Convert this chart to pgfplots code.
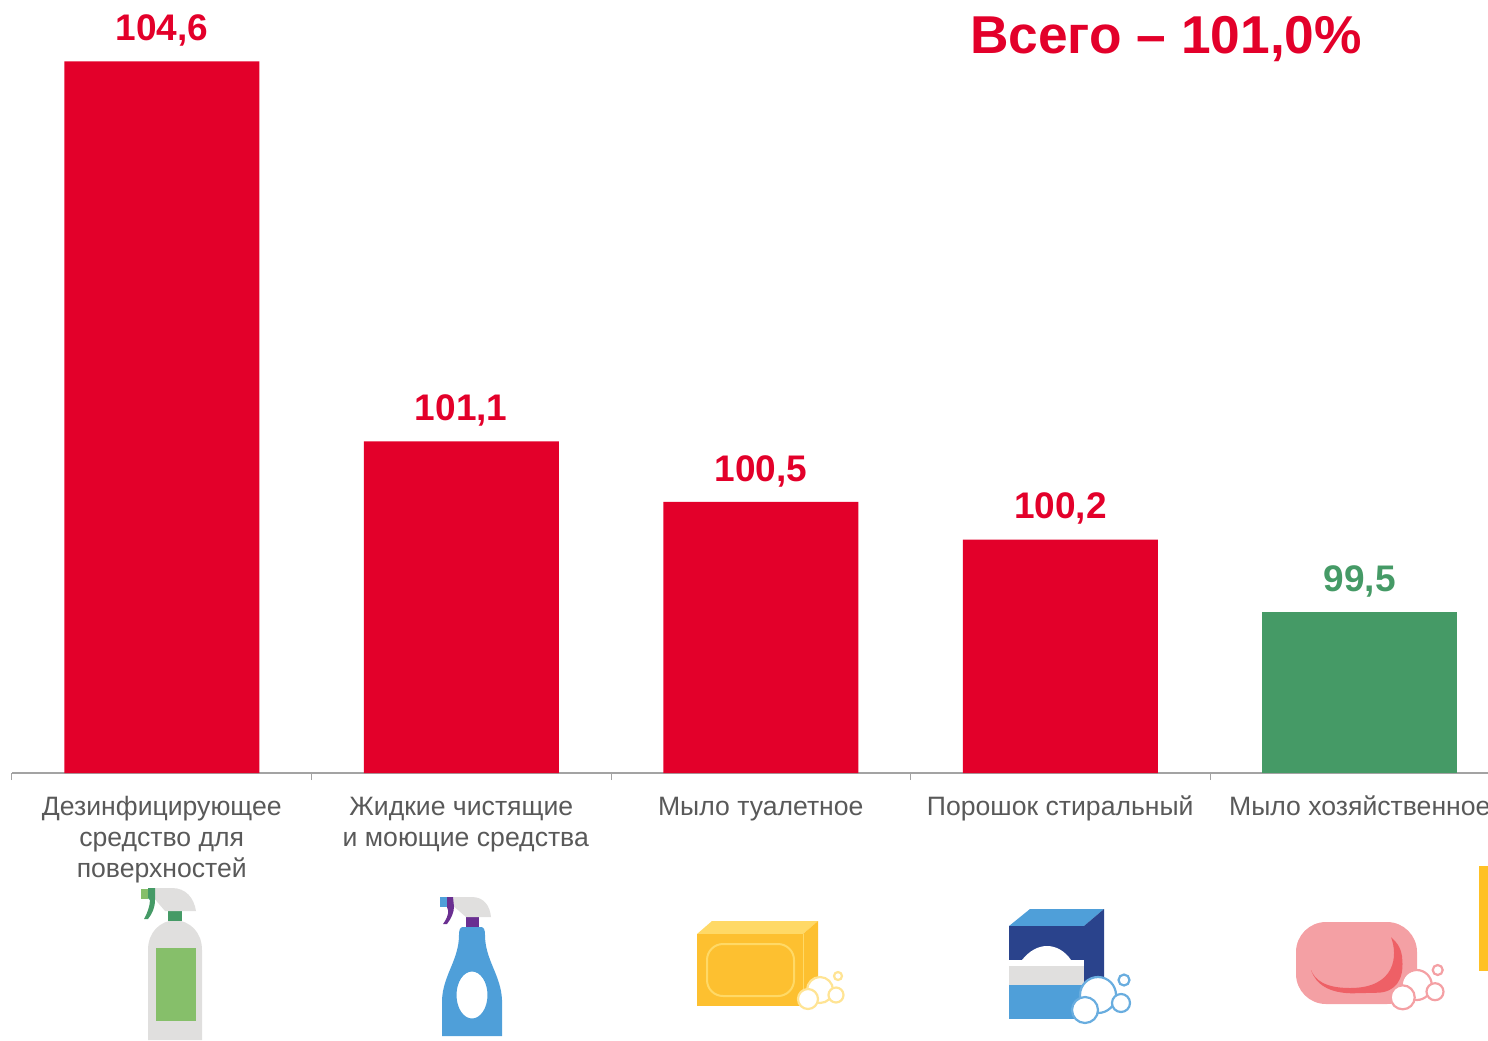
\documentclass[border=0pt]{standalone}
\usepackage{pgfplots}
\pgfplotsset{compat=1.18}
\usepackage{fontspec}
\setmainfont{Liberation Sans}
\definecolor{cred}{HTML}{E3002A}
\definecolor{cgreen}{HTML}{459A66}
\definecolor{caxis}{HTML}{A3A3A3}
\definecolor{ctext}{HTML}{595959}
\definecolor{igray}{HTML}{E0DFDE}
\definecolor{igreen}{HTML}{86BF6A}
\definecolor{iblue}{HTML}{4F9FD9}
\definecolor{ipurple}{HTML}{6A2F91}
\definecolor{iyel}{HTML}{FDC030}
\definecolor{iyell}{HTML}{FFD966}
\definecolor{inavy}{HTML}{2A438C}
\definecolor{ipink}{HTML}{F4A0A4}
\definecolor{ipinkd}{HTML}{EE6066}
\definecolor{ibar}{HTML}{FFC125}
\begin{document}
\begin{tikzpicture}
\path[use as bounding box] (0pt,0pt) rectangle (744pt,-520pt);
\clip (0pt,0pt) rectangle (744pt,-520pt);
\begin{axis}[
  at={(6pt,-386.5pt)}, anchor=south west,
  scale only axis, width=738pt, height=432pt,
  xmin=-0.5, xmax=4.428, ymin=98, ymax=106,
  ybar, bar width=97.5pt, bar shift=0pt,
  axis y line=none,
  axis x line*=bottom,
  x axis line style={-, draw=caxis, line width=0.8pt},
  xtick={0,1,2,3,4},
  xticklabels={{\strut Дезинфицирующее\\средство для\\поверхностей},{\strut Жидкие чистящие\\\hspace*{4.5pt}и моющие средства},{\strut Мыло туалетное},{\strut Порошок стиральный},{\strut Мыло хозяйственное}},
  x tick label style={font=\fontsize{13.3}{15.4}\selectfont, text=ctext, align=center, anchor=north, yshift=-6.9pt},
  major tick length=0pt,
  minor xtick={-0.5,0.5,1.5,2.5,3.5},
  minor tick length=3.5pt,
  xtick align=outside,
  tick pos=lower,
  minor tick style={draw=caxis, line width=0.5pt},
  major tick style={draw=none},
  nodes near coords,
  every node near coord/.append style={font=\bfseries\fontsize{18.5}{20}\selectfont, anchor=south, yshift=4pt},
  /pgf/number format/.cd, fixed, fixed zerofill, precision=1, use comma, assume math mode=true,
]
\addplot[draw=none, fill=cred, nodes near coords style={text=cred}] coordinates {(0,104.59) (1,101.07) (2,100.51) (3,100.16)};
\addplot[draw=none, fill=cgreen, nodes near coords style={text=cgreen}] coordinates {(4,99.49)};
\end{axis}
\begin{scope}[x=0.5pt,y=-0.5pt]
\node[text=cred, font=\bfseries\fontsize{26.65}{30}\selectfont] at (1166,39) {Всего – 101,0\%};
\fill[ibar] (1479,866) rectangle (1488,971);
% icon 1
\fill[igray] (148,1040)--(148,950) .. controls (148,932) and (160,921) .. (175,920) .. controls (190,921) and (202,932) .. (202,950)--(202,1040)--cycle;
\fill[igreen] (155.5,948) rectangle (195.5,1021);
\fill[cgreen] (168,911) rectangle (182,921);
\fill[igray] (155,888)--(172,888) .. controls (186,888) and (194,898) .. (196,911)--(165,911) .. controls (160,905) and (157,902) .. (155,899)--cycle;
\fill[igreen] (141,889) rectangle (148,899);
\fill[cgreen] (148,888)--(155,888)--(155,900) .. controls (155,908) and (152,914) .. (148,919)--(144,919) .. controls (147,914) and (150,906) .. (150,900)--(148,898)--cycle;
% icon 2
\fill[iblue,even odd rule] (442,1036)--(442,1000) .. controls (443,975) and (459,960) .. (459,935) .. controls (459,930) and (460,927) .. (463,927)--(481,927) .. controls (484,927) and (485,930) .. (485,935) .. controls (485,960) and (501,975) .. (502,1000)--(502,1036)--cycle (472,995) ellipse [x radius=15.5, y radius=23.5];
\fill[ipurple] (466,917) rectangle (479,927);
\fill[igray] (453,897)--(472,897) .. controls (484,897) and (490,906) .. (491,917)--(466,917) .. controls (460,912) and (456,908) .. (453,906)--cycle;
\fill[iblue] (440,897) rectangle (447,907);
\fill[ipurple] (447,897)--(453,897)--(454,907) .. controls (454,912) and (451,919) .. (447,924)--(443,924) .. controls (446,920) and (449,914) .. (448,910)--(447,907)--cycle;
% icon 3
\fill[iyell] (697,934)--(712,921)--(818,921)--(803,934)--cycle;
\fill[iyel] (697,934) rectangle (803,1006);
\fill[iyel] (803,934)--(818,921)--(818,993)--(803,1006)--cycle;
\draw[iyell,line width=0.3pt] (803,934)--(803,1006);
\draw[iyell,line width=1pt,rounded corners=8pt] (707,944) rectangle (794,996);
\begin{scope}[fill=white,draw=iyell!70!white,line width=1.1pt]
\filldraw (820,990) circle [radius=13];
\filldraw (836,995) circle [radius=7.5];
\filldraw (838,976) circle [radius=4];
\filldraw (808,999) circle [radius=10];
\end{scope}
% icon 4
\fill[iblue] (1009,926)--(1030,909)--(1104,909)--(1084,926)--cycle;
\fill[inavy] (1009,926) rectangle (1084,960);
\fill[inavy] (1084,926)--(1104,909)--(1104,985)--(1084,1000)--cycle;
\fill[white] (1022,960) .. controls (1029,951) and (1038,946) .. (1047,946) .. controls (1056,946) and (1065,951) .. (1071,960)--cycle;
\fill[white] (1009,960) rectangle (1084,966);
\fill[igray] (1009,966) rectangle (1084,985);
\fill[iblue] (1009,985) rectangle (1084,1019);
\begin{scope}[fill=white,draw=iblue!85!white,line width=1.1pt]
\filldraw (1098,995) circle [radius=18];
\filldraw (1121,1003) circle [radius=9];
\filldraw (1124,980) circle [radius=5.5];
\filldraw (1085,1010) circle [radius=13];
\end{scope}
% icon 5
\fill[ipink,rounded corners=15pt] (1296,922) rectangle (1417,1004);
\fill[ipinkd] (1311,970) .. controls (1316,985) and (1330,993) .. (1352,993.3)--(1378,992.7) .. controls (1395,992) and (1404,980) .. (1402.3,960) .. controls (1402,950) and (1398,943) .. (1391,937.3) .. controls (1398,955) and (1396,988) .. (1350,988) .. controls (1325,988) and (1315,980) .. (1311,970)--cycle;
\begin{scope}[fill=white,draw=ipink,line width=1.1pt]
\filldraw (1416.7,985) circle [radius=15];
\filldraw (1435,991.7) circle [radius=8.5];
\filldraw (1437.7,970) circle [radius=5];
\filldraw (1402.7,997.3) circle [radius=12];
\end{scope}
\end{scope}
\end{tikzpicture}
\end{document}
